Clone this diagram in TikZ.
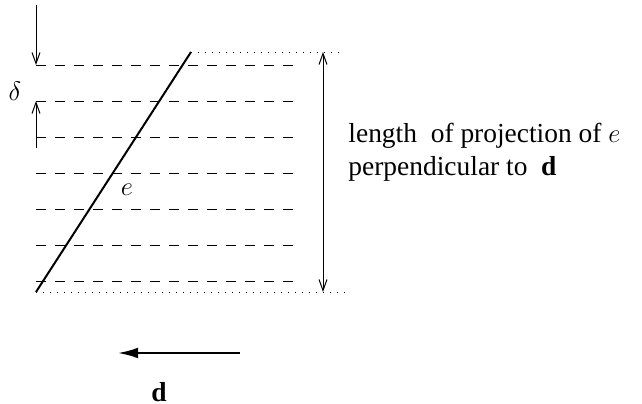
\documentclass[tikz,border=0pt]{standalone}
\usepackage{fontspec}
\setmainfont{Liberation Serif}
\usetikzlibrary{arrows.meta, positioning}

\begin{document}
\begin{tikzpicture}[x=0.45pt, y=-0.45pt, font=\fontsize{12.35}{14.6}\selectfont,
    >={Straight Barb[length=5pt, width=3.6pt]},
    level/.style={line width=0.45pt, dash pattern=on 4.5pt off 4.05pt},
    bound/.style={line width=0.45pt, dash pattern=on 0.45pt off 2.7pt}]
  \useasboundingbox (0,0) rectangle (642,404);

  % the dashed levels, delta apart
  \foreach \y in {65,101,...,281}
    \draw[level] (36,\y) -- (296,\y);

  % the edge e and the dotted ends of its projection
  \coordinate (P) at (36,292);
  \coordinate (Q) at (191,52);
  \coordinate (Pr) at (345,292);
  \coordinate (Qr) at (340,52);
  \draw[line width=0.9pt] (P) -- (Q);
  \draw[bound] (P) -- (Pr);
  \draw[bound] (Q) -- (Qr);
  \node (e) at (127,190) {$e$};

  % spacing delta
  \coordinate (D1) at (36,5);
  \coordinate (D2) at (36,65);
  \coordinate (D3) at (36,148);
  \coordinate (D4) at (36,101);
  \draw[->, line width=0.45pt] (D1) -- (D2);
  \draw[->, line width=0.45pt] (D3) -- (D4);
  \node (delta) at (15,91) {$\delta$};

  % length of the projection
  \coordinate (L1) at (323,52);
  \coordinate (L2) at (323,292);
  \draw[<->, line width=0.45pt] (L1) -- (L2);
  \node[anchor=base west, align=left, inner sep=0pt] (len) at (348,175)
    {length\ \ of projection of $e$\\perpendicular to\ \ $\mathbf{d}$};

  % direction d
  \coordinate (d1) at (240,353);
  \coordinate (d2) at (118,353);
  \draw[-{Latex[length=9pt, width=4.8pt]}, line width=0.9pt] (d1) -- (d2);
  \node[anchor=base, inner sep=0pt] (dlabel) at (159,401) {$\mathbf{d}$};
\end{tikzpicture}
\end{document}
